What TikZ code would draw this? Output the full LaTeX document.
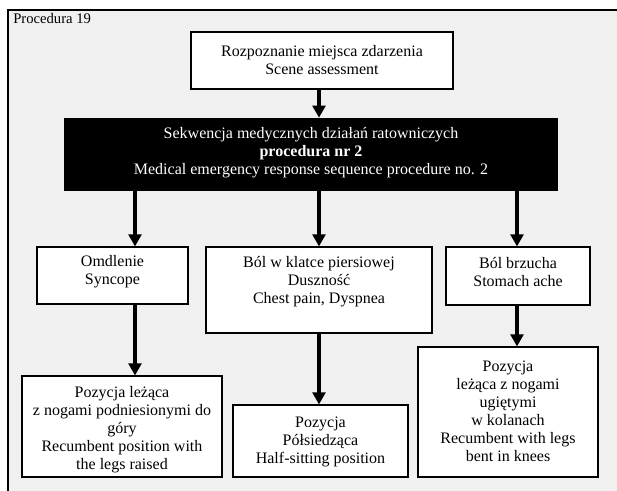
\documentclass[tikz,border=0pt]{standalone}
\usepackage{fontspec}
\setmainfont{Liberation Serif}
\usetikzlibrary{arrows.meta,fit}
\definecolor{bggray}{RGB}{240,240,240}
\begin{document}
\begin{tikzpicture}[x=0.75pt,y=-0.75pt,
  box/.style={draw=black, line width=0.8pt, fill=white, inner sep=0pt},
  blackbox/.style={draw=black, fill=black, inner sep=0pt},
  txt/.style={align=center, font=\fontsize{12pt}{13.5pt}\selectfont, inner sep=0pt},
  arr/.style={line width=3pt, -{Triangle[width=9.5pt,length=9pt]}},
]
\useasboundingbox (0,0) rectangle (617,491);
\fill[bggray] (8,10) rectangle (617,491);
\draw[line width=1pt] (8,491) -- (8,10) -- (617,10);

\node[anchor=west, inner sep=0pt, font=\fontsize{11pt}{13pt}\selectfont] (title) at (13,18) {Procedura 19};

% boxes
\node[box, fit={(191,32) (453,89)}] (scene) {};
\node[blackbox, fit={(64,118) (557,190)}] (seq) {};
\node[box, fit={(37,247) (188,304)}] (syn) {};
\node[box, fit={(206,247) (432,333)}] (chest) {};
\node[box, fit={(446,247) (590,305)}] (stom) {};
\node[box, fit={(22,376) (222,477)}] (legsup) {};
\node[box, fit={(233,405) (408,477)}] (half) {};
\node[box, fit={(418,347) (598,477)}] (bent) {};

% texts
\node[txt] (t-scene) at (322,60.5) {Rozpoznanie miejsca zdarzenia\\Scene assessment};
\node[txt, text=white] (t-seq) at (311,153) {Sekwencja medycznych działań ratowniczych\\\textbf{procedura nr 2}\\Medical emergency response sequence procedure no. 2};
\node[txt] (t-syn) at (112.5,272) {Omdlenie\\Syncope};
\node[txt] (t-chest) at (319,282) {Ból w klatce piersiowej\\Duszność\\Chest pain, Dyspnea};
\node[txt] (t-stom) at (518,272) {Ból brzucha\\Stomach ache};
\node[txt] (t-legsup) at (122,429.5) {Pozycja leżąca\\z nogami podniesionymi do\\góry\\Recumbent position with\\the legs raised};
\node[txt] (t-half) at (320.5,441.5) {Pozycja\\Półsiedząca\\Half-sitting position};
\node[txt] (t-bent) at (508,411) {Pozycja\\leżąca z nogami\\ugiętymi\\w kolanach\\Recumbent with legs\\bent in knees};

% arrow columns
\coordinate (xa) at (135,0);
\coordinate (xb) at (319,0);
\coordinate (xc) at (517,0);

\draw[arr] (scene.south -| xb) -- (seq.north -| xb);
\draw[arr] (seq.south -| xa) -- (syn.north -| xa);
\draw[arr] (seq.south -| xb) -- (chest.north -| xb);
\draw[arr] (seq.south -| xc) -- (stom.north -| xc);
\draw[arr] (syn.south -| xa) -- (legsup.north -| xa);
\draw[arr] (chest.south -| xb) -- (half.north -| xb);
\draw[arr] (stom.south -| xc) -- (bent.north -| xc);
\end{tikzpicture}
\end{document}
